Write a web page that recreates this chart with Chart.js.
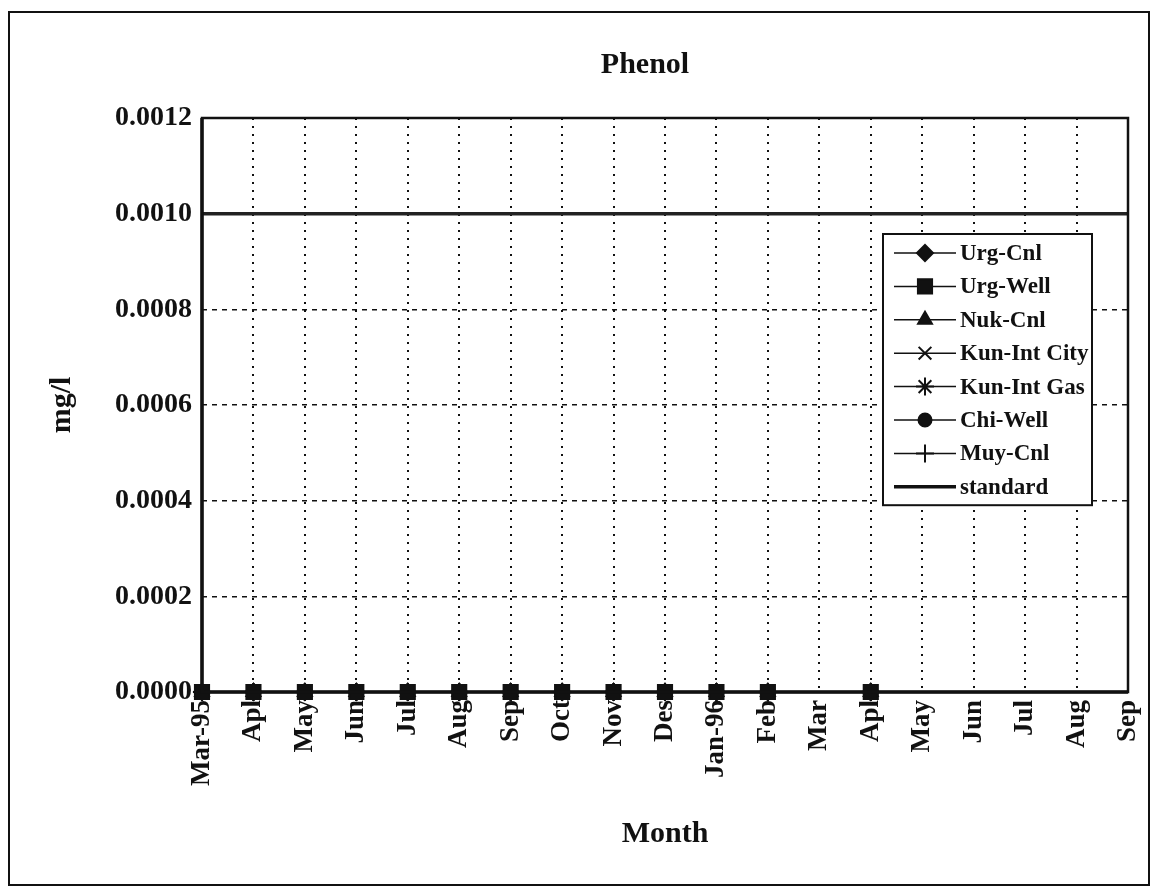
<!DOCTYPE html>
<html>
<head>
<meta charset="utf-8">
<script src="https://cdn.jsdelivr.net/npm/chart.js@4.4.1/dist/chart.umd.min.js"></script>
<style>
  html, body { margin: 0; padding: 0; background: #fff; }
  #wrap { width: 1155px; height: 896px; position: relative; }
</style>
</head>
<body>
<div id="wrap"><canvas id="chart" width="1155" height="896"></canvas></div>
<script>
const months = ['Mar-95', 'Apl', 'May', 'Jun', 'Jul', 'Aug', 'Sep', 'Oct', 'Nov', 'Des', 'Jan-96',
    'Feb', 'Mar', 'Apl', 'May', 'Jun', 'Jul', 'Aug', 'Sep'];

const urgCnl      = [0, 0, 0, 0, 0, 0, 0, 0, 0, 0, 0, 0, null, 0, null, null, null, null, null];
const urgWell     = [0, 0, 0, 0, 0, 0, 0, 0, 0, 0, 0, 0, null, 0, null, null, null, null, null];
const nukCnl      = [0, 0, 0, 0, 0, 0, 0, 0, 0, 0, 0, 0, null, 0, null, null, null, null, null];
const kunIntCity  = [0, 0, 0, 0, 0, 0, 0, 0, 0, 0, 0, 0, null, 0, null, null, null, null, null];
const kunIntGas   = [0, 0, 0, 0, 0, 0, 0, 0, 0, 0, 0, 0, null, 0, null, null, null, null, null];
const chiWell     = [0, 0, 0, 0, 0, 0, 0, 0, 0, 0, 0, 0, null, 0, null, null, null, null, null];
const muyCnl      = [0, 0, 0, 0, 0, 0, 0, 0, 0, 0, 0, 0, null, 0, null, null, null, null, null];
const standard    = [0.001, 0.001, 0.001, 0.001, 0.001, 0.001, 0.001, 0.001, 0.001, 0.001,
    0.001, 0.001, 0.001, 0.001, 0.001, 0.001, 0.001, 0.001, 0.001];

const yTicks = [0, 0.0002, 0.0004, 0.0006, 0.0008, 0.0010, 0.0012];

const FONT = "'Liberation Serif', 'Times New Roman', serif";
const INK = '#111';

function series(label, data, pointStyle, radius, order) {
    return {
        label, data, pointStyle,
        pointRadius: radius,
        pointBorderWidth: 2,
        borderColor: INK,
        backgroundColor: INK,
        pointBackgroundColor: INK,
        pointBorderColor: INK,
        borderWidth: 1.5,
        spanGaps: false,
        clip: false,
        order: order
    };
}

// lower order is drawn last, so Urg-Well squares end up on top like the original
const datasets = [
    series('Urg-Cnl', urgCnl, 'rectRot', 8, 2),
    series('Urg-Well', urgWell, 'rect', 10, 1),
    series('Nuk-Cnl', nukCnl, 'triangle', 8, 3),
    series('Kun-Int City', kunIntCity, 'crossRot', 9, 4),
    series('Kun-Int Gas', kunIntGas, 'star', 9, 5),
    series('Chi-Well', chiWell, 'circle', 6.5, 6),
    series('Muy-Cnl', muyCnl, 'cross', 9, 7),
    {
        label: 'standard', data: standard,
        borderColor: '#222', borderWidth: 3.5,
        pointRadius: 0, pointStyle: false, order: 0, clip: false
    }
];

// page frame, title and plot box
const framePlugin = {
    id: 'frame',
    beforeDraw(chart) {
        const ctx = chart.ctx;
        ctx.save();
        ctx.fillStyle = '#fff';
        ctx.fillRect(0, 0, chart.width, chart.height);
        ctx.strokeStyle = INK;
        ctx.lineWidth = 2;
        ctx.strokeRect(9, 12, 1140, 873);
        ctx.fillStyle = INK;
        ctx.font = 'bold 30px ' + FONT;
        ctx.textAlign = 'center';
        ctx.textBaseline = 'middle';
        ctx.fillText('Phenol', 645, 65);
        ctx.restore();
    },
    afterDatasetsDraw(chart) {
        const a = chart.chartArea;
        const ctx = chart.ctx;
        ctx.save();
        ctx.strokeStyle = INK;
        ctx.lineWidth = 2.5;
        ctx.strokeRect(a.left, a.top, a.right - a.left, a.bottom - a.top);
        ctx.lineWidth = 3.5;
        ctx.beginPath();
        ctx.moveTo(a.left, a.top);
        ctx.lineTo(a.left, a.bottom);
        ctx.lineTo(a.right, a.bottom);
        ctx.stroke();
        ctx.restore();
    }
};

// legend box inside the plot, line + marker samples
const boxLegend = {
    id: 'boxLegend',
    afterDraw(chart) {
        const a = chart.chartArea;
        const ctx = chart.ctx;
        const x0 = a.right - 245, y0 = a.top + 116;
        const rowH = 33.4, w = 209;
        const items = chart.data.datasets;
        const h = rowH * items.length + 4;
        ctx.save();
        ctx.fillStyle = '#fff';
        ctx.fillRect(x0, y0, w, h);
        ctx.strokeStyle = INK;
        ctx.lineWidth = 2;
        ctx.strokeRect(x0, y0, w, h);
        ctx.font = 'bold 23px ' + FONT;
        ctx.textBaseline = 'middle';
        items.forEach((ds, i) => {
            const y = y0 + 19 + i * rowH;
            ctx.strokeStyle = INK;
            ctx.lineWidth = ds.pointStyle ? 1.5 : 3.5;
            ctx.beginPath();
            ctx.moveTo(x0 + 11, y);
            ctx.lineTo(x0 + 73, y);
            ctx.stroke();
            if (ds.pointStyle) {
                ctx.fillStyle = INK;
                ctx.lineWidth = 2;
                Chart.helpers.drawPoint(ctx, {
                    pointStyle: ds.pointStyle, radius: ds.pointRadius, rotation: 0, borderWidth: 2
                }, x0 + 42, y);
            }
            ctx.fillStyle = INK;
            ctx.fillText(ds.label, x0 + 77, y + 1);
        });
        ctx.restore();
    }
};

new Chart(document.getElementById('chart'), {
    type: 'line',
    data: { labels: months, datasets },
    plugins: [framePlugin, boxLegend],
    options: {
        responsive: false,
        animation: false,
        events: [],
        layout: { padding: { top: 118, left: 44, right: 27, bottom: 18 } },
        plugins: {
            legend: { display: false },
            tooltip: { enabled: false },
            title: { display: false }
        },
        scales: {
            x: {
                type: 'category',
                offset: false,
                afterFit(scale) {
                    scale.height = 896 - 692 - 18;
                    scale.paddingLeft = 0;
                    scale.paddingRight = 0;
                },
                grid: { color: INK, lineWidth: 2, drawTicks: false },
                // in v4 border.dash sets the dash of the grid lines
                border: { display: false, dash: [2, 6] },
                ticks: {
                    color: INK, autoSkip: false, minRotation: 90, maxRotation: 90, padding: 8,
                    font: { family: FONT, size: 27, weight: 'bold' }
                },
                title: {
                    display: true, text: 'Month', color: INK,
                    font: { family: FONT, size: 30, weight: 'bold' },
                    padding: { top: 0, bottom: 26 }
                }
            },
            y: {
                min: 0, max: 0.0012,
                afterFit(scale) { scale.width = 202 - 44; },
                afterBuildTicks(scale) { scale.ticks = yTicks.map(v => ({ value: v })); },
                grid: { color: INK, lineWidth: 1.5, drawTicks: false },
                border: { display: false, dash: [5, 5] },
                ticks: {
                    color: INK, padding: 10,
                    font: { family: FONT, size: 28, weight: 'bold' },
                    callback: v => Number(v).toFixed(4)
                },
                title: {
                    display: true, text: 'mg/l', color: INK,
                    font: { family: FONT, size: 30, weight: 'bold' },
                    padding: { top: 0, bottom: 0 }
                }
            }
        }
    }
});
</script>
</body>
</html>
